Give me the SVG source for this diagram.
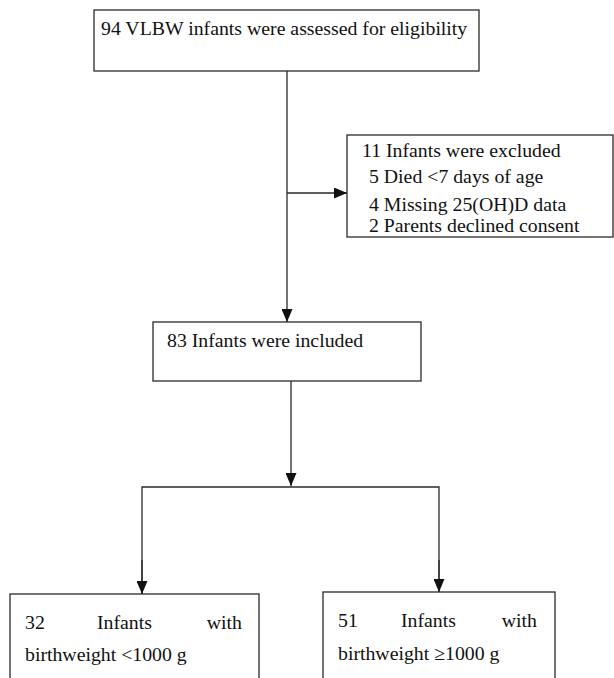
<svg xmlns="http://www.w3.org/2000/svg" width="614" height="678" viewBox="0 0 614 678">
<style>
.box{fill:#fff;stroke:#2a2a2a;stroke-width:1.3}
.ln{fill:none;stroke:#2a2a2a;stroke-width:1.3}
.t{font-family:'Liberation Serif','DejaVu Serif',serif;font-size:19.8px;fill:#111}
</style>
<defs>
<marker id="arr" markerUnits="userSpaceOnUse" markerWidth="13" markerHeight="11" refX="13" refY="5.5" orient="auto">
<path d="M0,0 L13,5.5 L0,11 z" fill="#111"/>
</marker>
</defs>
<rect width="614" height="678" fill="#fff"/>
<g id="connectors">
<line class="ln" x1="287" y1="71" x2="287" y2="322" marker-end="url(#arr)"/>
<line class="ln" x1="287" y1="193" x2="347" y2="193" marker-end="url(#arr)"/>
<line class="ln" x1="291" y1="381" x2="291" y2="486" marker-end="url(#arr)"/>
<polyline class="ln" points="142,594 142,487 439,487 439,592"/>
<line class="ln" x1="142" y1="560" x2="142" y2="594" marker-end="url(#arr)"/>
<line class="ln" x1="439" y1="560" x2="439" y2="592" marker-end="url(#arr)"/>
</g>
<g class="t" font-family="Liberation Serif, serif">
<g id="assessed">
<rect class="box" x="94" y="10" width="385" height="61"/>
<text x="101" y="35">94 VLBW infants were assessed for eligibility</text>
</g>
<g id="excluded">
<rect class="box" x="347" y="135" width="266" height="102"/>
<text x="362" y="157">11 Infants were excluded</text>
<text x="369" y="183">5 Died &lt;7 days of age</text>
<text x="369" y="211">4 Missing 25(OH)D data</text>
<text x="369" y="232">2 Parents declined consent</text>
</g>
<g id="included">
<rect class="box" x="153" y="322" width="268" height="59"/>
<text x="167" y="347">83 Infants were included</text>
</g>
<g id="low">
<rect class="box" x="10" y="594" width="249" height="100"/>
<text x="25" y="629">32</text>
<text x="97" y="629">Infants</text>
<text x="242" y="629" text-anchor="end">with</text>
<text x="25" y="661">birthweight &lt;1000 g</text>
</g>
<g id="high">
<rect class="box" x="323" y="592" width="232" height="100"/>
<text x="338" y="627">51</text>
<text x="401" y="627">Infants</text>
<text x="537" y="627" text-anchor="end">with</text>
<text x="338" y="660">birthweight ≥1000 g</text>
</g>
</g>
</svg>
